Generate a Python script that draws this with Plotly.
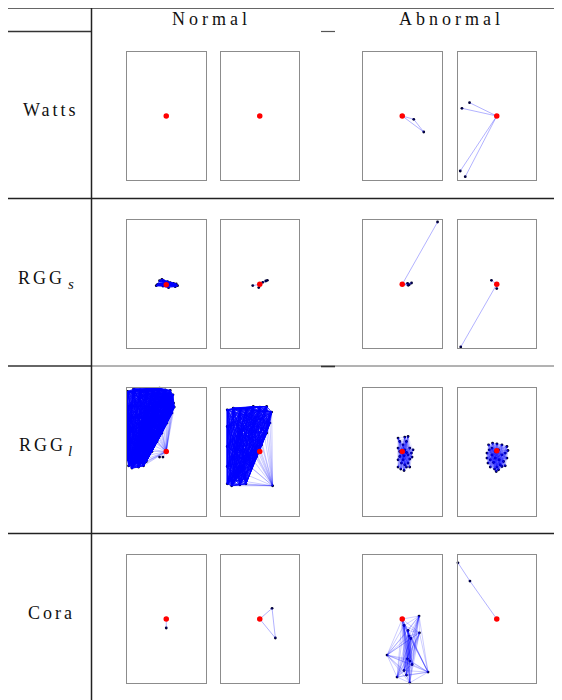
import itertools
import plotly.graph_objects as go

# ---------------- table text ----------------
ROW_LABELS = ["Watts", "RGG", "RGG", "Cora"]
ROW_SUBS = ["", "s", "l", ""]
COL_LABELS = ["Normal", "Abnormal"]

# ---------------- graph data (node offsets from panel centre, index 0 = target node) ----------------
# Watts
W_N1_X = [0.0]
W_N1_Y = [0.0]
W_N1_E = []
W_N2_X = [0.0]
W_N2_Y = [0.0]
W_N2_E = []
W_A1_X = [0.0, 11.5, 21.5]
W_A1_Y = [0.0, -3.3, -16.0]
W_A1_E = [(0, 1), (0, 2), (1, 2)]
W_A2_X = [0.0, -27.2, -34.8, -36.5, -31.5]
W_A2_Y = [0.0, 13.3, 7.7, -55.0, -60.7]
W_A2_E = [(0, 1), (0, 2), (0, 3), (0, 4)]

# RGG small
S_N1_X = [0.0, -10.0, -8.7, -6.7, -4.3, -2.7, -1.0, 1.3, 4.0, 7.3, 10.0, 11.3, 9.0, 2.3, -3.3, -6.0, 0.0, 5.7]
S_N1_Y = [-0.5, -1.4, 0.0, 3.6, 5.0, 3.3, 1.6, 2.6, 1.6, 1.0, 0.3, -1.4, -2.4, -3.4, -1.7, 0.0, 0.0, -0.7]
S_N1_E = []
S_N1_DENSE = list(range(18))
S_N2_X = [0.0, -7.0, 3.0, 6.0, 7.6, -1.0]
S_N2_Y = [0.0, -1.3, 2.0, 3.3, 4.0, -3.3]
S_N2_E = [(0, 1), (0, 2), (2, 3), (3, 4), (0, 5)]
S_A1_X = [0.0, 35.3, 5.3, 7.0, 9.3, 6.0]
S_A1_Y = [0.0, 62.3, 1.0, -0.3, 1.3, -1.0]
S_A1_E = [(0, 1), (0, 2), (0, 3), (2, 4), (3, 4), (0, 5)]
S_A2_X = [0.0, -5.3, 0.0, -36.0]
S_A2_Y = [0.0, 4.0, -4.3, -62.7]
S_A2_E = [(0, 1), (0, 2), (0, 3)]

# RGG large
L_N1_X = [0.0, -38.7, -32.7, -26.0, -19.3, -12.7, -6.7, -1.0, 4.0, 6.7, 5.7, 7.3, 8.0, 5.7, 0.7,
          -4.3, -9.3, -14.3, -20.0, -22.7, -27.7, -34.3, -37.7, -38.7, -38.7, -38.7, -38.7, -38.7,
          -10.3, -6.7, -3.3, -20.0, -25.0, -15.0, -28.0, -10.0]
L_N1_Y = [0.0, 60.0, 62.4, 61.7, 62.7, 62.4, 63.4, 61.7, 61.0, 56.7, 51.7, 48.4, 44.4, 38.4, 28.4,
          18.4, 10.0, 0.0, -10.0, -14.3, -15.6, -16.6, -14.3, -8.3, 5.0, 18.4, 31.7, 45.0,
          10.0, -5.6, -5.6, 40.0, 20.0, 25.0, 0.0, 45.0]
L_N1_E = [(0, k) for k in range(1, 31)]
L_N1_DENSE = list(range(1, 28)) + [31, 32, 33, 34, 35]
L_N2_X = [0.0, -32.5, -26.5, -19.8, -13.2, -6.5, 0.2, 6.9, 11.9, 10.2, 6.9, 1.9, -3.1, -8.1, -13.8,
          -19.8, -24.8, -28.1, -32.5, -32.5, -32.5, -32.5, 12.9, -4.8, -20.0, -15.0, -25.0, -5.0]
L_N2_Y = [0.0, 41.7, 43.4, 42.4, 43.0, 45.0, 44.4, 45.0, 39.4, 28.4, 18.4, 6.7, -5.0, -16.6, -32.3,
          -33.3, -28.3, -34.3, -32.3, -15.0, 5.0, 25.0, -34.3, -7.6, 20.0, -10.0, 0.0, 30.0]
L_N2_E = [(0, k) for k in range(1, 24)] + [(22, k) for k in range(1, 22)]
L_N2_DENSE = list(range(1, 22)) + [24, 25, 26, 27]
L_A1_X = [0.0, -4.2, -2.5, 2.5, 5.8, 4.2, 0.8, -4.2, 2.5, 7.5, 10.8, 9.2, 5.8, 1.8, -2.5, -4.2, 0.8,
          7.5, 9.8, -0.8, 2.5, 5.8, -4.2, -1.5, 1.8, 4.2, 7.5, -2.5, 4.2, 0.2]
L_A1_Y = [0.0, 13.4, 10.0, 14.4, 15.0, 10.0, 6.7, 3.4, 1.7, 3.4, 1.7, -1.6, -3.3, -4.3, -5.0, -8.3,
          -8.3, -7.6, -5.6, -11.6, -13.3, -11.6, -15.6, -17.6, -19.0, -15.6, -15.6, 0.0, -1.0, -1.6]
L_A1_E = []
L_A1_DENSE = list(range(30))
L_A2_X = [0.0, -8.2, -4.2, 0.2, 5.2, 10.2, 11.2, 8.5, 5.2, 10.2, 6.8, 3.5, 0.2, 1.8, -2.2, -6.5,
          -8.8, -9.8, -9.8, -7.5, -4.8, -1.5, 1.8, -4.8, -1.5, 2.5, -3.2, -6.5, 5.2, -0.5, 8.5]
L_A2_Y = [0.7, 6.7, 8.4, 7.7, 6.7, 5.0, 1.0, -1.6, -3.3, -6.6, -10.0, -13.3, -15.6, -18.3, -17.6,
          -15.6, -11.6, -6.6, -1.6, 1.7, 3.4, 0.0, 1.7, -3.3, -6.6, -8.3, -11.0, -8.3, -15.0, -20.0, -14.3]
L_A2_E = []
L_A2_DENSE = list(range(31))

# Cora
C_N1_X = [0.0, 0.0]
C_N1_Y = [0.0, -9.0]
C_N1_E = [(0, 1)]
C_N2_X = [0.0, 12.3, 15.6]
C_N2_Y = [0.0, 10.7, -19.0]
C_N2_E = [(0, 1), (0, 2), (1, 2)]
C_A1_X = [0.0, 16.8, 1.8, 5.8, 6.8, 17.2, 8.5, -15.2, 5.2, 7.5, 9.8, 1.8, 4.2, -5.2, 7.5, 25.8]
C_A1_Y = [0.0, 2.9, -6.5, -11.5, -17.1, -13.8, -19.5, -36.1, -39.8, -42.1, -45.5, -51.5, -56.1, -58.1, -63.8, -53.1]
C_A1_E = []
C_A1_DENSE = list(range(16))
C_A2_X = [0.0, -26.8, -38.8]
C_A2_Y = [0.0, 37.9, 56.2]
C_A2_E = [(0, 1), (1, 2)]

PANELS = [
    [(W_N1_X, W_N1_Y, W_N1_E, []), (W_N2_X, W_N2_Y, W_N2_E, []),
     (W_A1_X, W_A1_Y, W_A1_E, []), (W_A2_X, W_A2_Y, W_A2_E, [])],
    [(S_N1_X, S_N1_Y, S_N1_E, S_N1_DENSE), (S_N2_X, S_N2_Y, S_N2_E, []),
     (S_A1_X, S_A1_Y, S_A1_E, []), (S_A2_X, S_A2_Y, S_A2_E, [])],
    [(L_N1_X, L_N1_Y, L_N1_E, L_N1_DENSE), (L_N2_X, L_N2_Y, L_N2_E, L_N2_DENSE),
     (L_A1_X, L_A1_Y, L_A1_E, L_A1_DENSE), (L_A2_X, L_A2_Y, L_A2_E, L_A2_DENSE)],
    [(C_N1_X, C_N1_Y, C_N1_E, []), (C_N2_X, C_N2_Y, C_N2_E, []),
     (C_A1_X, C_A1_Y, C_A1_E, C_A1_DENSE), (C_A2_X, C_A2_Y, C_A2_E, [])],
]

# ---------------- styles / layout ----------------
OFF = 8                      # page body margin of the browser
W, H = 562 - OFF, 700 - OFF  # figure size so that it fills the visible window
COL_PX = [(127, 205.5), (220.5, 299), (363, 441.5), (457.5, 536)]
ROW_PX = [(52, 180), (220.3, 348.3), (387.5, 515.5), (555, 683)]
EDGE_ALPHA = [[0.3, 0.3, 0.3, 0.3],
              [0.3, 0.3, 0.3, 0.3],
              [0.22, 0.2, 0.1, 0.1],
              [0.3, 0.3, 0.3, 0.3]]
DENSE_ALPHA = [[0, 0, 0, 0],
               [0.35, 0, 0, 0],
               [0.8, 0.8, 0.07, 0.09],
               [0, 0, 0.2, 0]]


def px(x):
    return (x - OFF) / W


def py(y):
    return 1 - (y - OFF) / H


fig = go.Figure()


def seg(xs, ys, pairs):
    ex, ey = [], []
    for a, b in pairs:
        ex += [xs[a], xs[b], None]
        ey += [ys[a], ys[b], None]
    return ex, ey


k = 0
for r in range(4):
    for c in range(4):
        k += 1
        xs, ys, edges, dense = PANELS[r][c]
        xa = "x" if k == 1 else f"x{k}"
        ya = "y" if k == 1 else f"y{k}"
        if len(xs) > 1:
            fig.add_trace(go.Scatter(x=xs[1:], y=ys[1:], mode="markers", xaxis=xa, yaxis=ya,
                                     marker=dict(color="#000030", size=2.8),
                                     cliponaxis=False, hoverinfo="skip", showlegend=False))
        if edges:
            ex, ey = seg(xs, ys, edges)
            fig.add_trace(go.Scatter(x=ex, y=ey, mode="lines", xaxis=xa, yaxis=ya,
                                     line=dict(color=f"rgba(0,0,255,{EDGE_ALPHA[r][c]})", width=1),
                                     hoverinfo="skip", showlegend=False))
        if dense:
            dx, dy = seg(xs, ys, itertools.combinations(dense, 2))
            fig.add_trace(go.Scatter(x=dx, y=dy, mode="lines", xaxis=xa, yaxis=ya,
                                     line=dict(color=f"rgba(0,0,255,{DENSE_ALPHA[r][c]})", width=1),
                                     hoverinfo="skip", showlegend=False))
        fig.add_trace(go.Scatter(x=xs[:1], y=ys[:1], mode="markers", xaxis=xa, yaxis=ya,
                                 marker=dict(color="#ff0000", size=5.5),
                                 hoverinfo="skip", showlegend=False))
        x0, x1 = COL_PX[c]
        y0, y1 = ROW_PX[r]
        hw = (x1 - x0) / 2
        hh = (y1 - y0) / 2
        ax = dict(showgrid=False, zeroline=False, showticklabels=False, ticks="",
                  showline=True, mirror=True, linecolor="#8c8c8c", linewidth=1, fixedrange=True)
        fig.layout[f"xaxis{'' if k == 1 else k}"] = dict(ax, domain=[px(x0), px(x1)], range=[-hw, hw],
                                                          anchor=ya)
        fig.layout[f"yaxis{'' if k == 1 else k}"] = dict(ax, domain=[py(y1), py(y0)], range=[-hh, hh],
                                                          anchor=xa)

# table rules
shapes = []


def hline(x0, x1, y, color, width):
    shapes.append(dict(type="line", xref="paper", yref="paper", x0=px(x0), x1=px(x1),
                       y0=py(y), y1=py(y), line=dict(color=color, width=width)))


def vline(x, y0, y1, color, width):
    shapes.append(dict(type="line", xref="paper", yref="paper", x0=px(x), x1=px(x),
                       y0=py(y0), y1=py(y1), line=dict(color=color, width=width)))


hline(8, 562, 8, "#333333", 1.6)
hline(8, 91, 31.5, "#333333", 1.4)
hline(321, 335, 31.5, "#555555", 1.2)
hline(556, 562, 31.5, "#555555", 1.2)
hline(8, 562, 198.5, "#222222", 1.4)
hline(8, 91, 366, "#333333", 1.4)
hline(91, 562, 366, "#666666", 1)
hline(321, 335, 366.5, "#333333", 1.6)
hline(557, 562, 366.5, "#333333", 1.6)
hline(8, 562, 533.5, "#222222", 1.4)
vline(91.5, 8, 700, "#222222", 1.5)

FONT = "Liberation Serif"
annotations = []
for i, lab in enumerate(COL_LABELS):
    cx = [211, 451][i]
    annotations.append(dict(text=f'<span style="letter-spacing:4px">{lab}</span>', xref="paper", yref="paper",
                            x=px(cx), y=py(18.5), showarrow=False, xanchor="center", yanchor="middle",
                            font=dict(family=FONT, size=18, color="#111111")))
ROW_CY = [110, 278, 445, 613]
ROW_CX = [51, 41, 42, 51]
for i, lab in enumerate(ROW_LABELS):
    annotations.append(dict(text=f'<span style="letter-spacing:3px">{lab}</span>', xref="paper", yref="paper",
                            x=px(ROW_CX[i]), y=py(ROW_CY[i]), showarrow=False, xanchor="center",
                            yanchor="middle", font=dict(family=FONT, size=18, color="#111111")))
    if ROW_SUBS[i]:
        annotations.append(dict(text=f"<i>{ROW_SUBS[i]}</i>", xref="paper", yref="paper",
                                x=px(66), y=py(ROW_CY[i] + 6), showarrow=False, xanchor="left",
                                yanchor="middle", font=dict(family=FONT, size=15, color="#111111")))

fig.update_layout(width=W, height=H, margin=dict(l=0, r=0, t=0, b=0),
                  paper_bgcolor="white", plot_bgcolor="white",
                  shapes=shapes, annotations=annotations, showlegend=False)

fig.write_html("out.html")
